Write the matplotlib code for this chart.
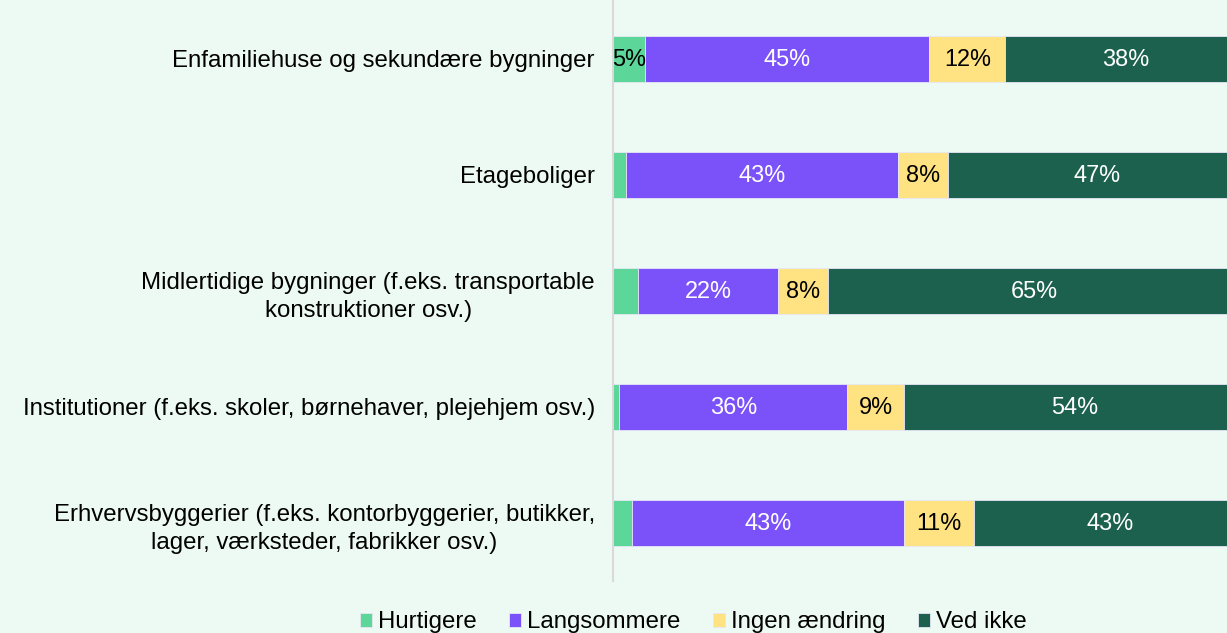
import numpy as np
import matplotlib.pyplot as plt

plt.rcParams['font.family'] = ['Liberation Sans', 'DejaVu Sans']

categories = [
    "Enfamiliehuse og sekundære bygninger",
    "Etageboliger",
    "Midlertidige bygninger (f.eks. transportable\nkonstruktioner osv.)",
    "Institutioner (f.eks. skoler, børnehaver, plejehjem osv.)",
    "Erhvervsbyggerier (f.eks. kontorbyggerier, butikker,\nlager, værksteder, fabrikker osv.)",
]
series_names = ["Hurtigere", "Langsommere", "Ingen ændring", "Ved ikke"]
hurtigere = [5, 2, 4, 1, 3]
langsommere = [45, 43, 22, 36, 43]
ingen = [12, 8, 8, 9, 11]
ved_ikke = [38, 47, 65, 54, 43]

colors = ["#5cd699", "#7b52f9", "#ffe382", "#1c614e"]
text_colors = ["black", "white", "black", "white"]
bg = "#edfaf3"

fig = plt.figure(figsize=(12.27, 6.33), dpi=100, facecolor=bg)
ax = fig.add_axes([613 / 1227, 1 - 581 / 633, 633 / 1227, 580 / 633])
ax.set_facecolor(bg)

y = np.arange(len(categories))
left = np.zeros(len(categories))
for name, vals, c, tc in zip(series_names, [hurtigere, langsommere, ingen, ved_ikke], colors, text_colors):
    vals = np.array(vals, dtype=float)
    ax.barh(y, vals, left=left, height=0.4, color=c, edgecolor="#e6e6f5", linewidth=0.6, label=name)
    for yi, l, v in zip(y, left, vals):
        if v >= 5:
            ax.text(l + v / 2, yi, f"{v:.0f}%", ha="center", va="center", color=tc, fontsize=16.9)
    left += vals

ax.set_xlim(0, 100)
ax.set_ylim(4.5, -0.5)
ax.set_yticks(y)
ax.set_yticklabels(categories, fontsize=17.3, linespacing=1.4)
for t in ax.get_yticklabels():
    t.set_multialignment("center")
ax.tick_params(axis="y", length=0, pad=13)
ax.set_xticks([])
for s in ["top", "right", "bottom"]:
    ax.spines[s].set_visible(False)
ax.spines["left"].set_color("#d9d9d9")
ax.spines["left"].set_linewidth(1.5)

fig.legend(loc="center", bbox_to_anchor=(0.565, 0.017), ncol=4, frameon=False,
           fontsize=17.3, handlelength=0.52, handleheight=0.52, handletextpad=0.25,
           columnspacing=1.33)

fig.savefig("out.png", dpi=100, facecolor=bg)
